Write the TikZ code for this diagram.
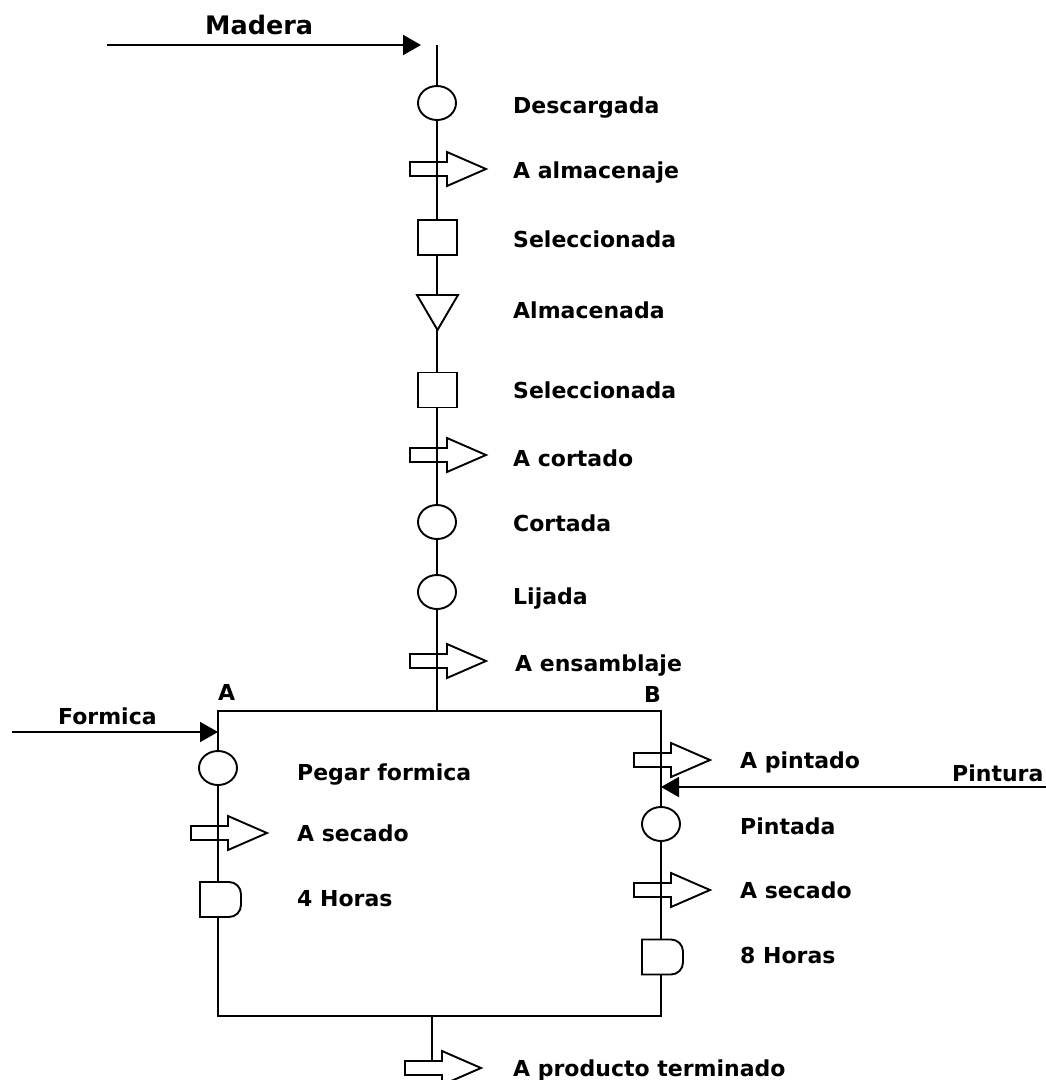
\documentclass[tikz,border=0pt]{standalone}
\usepackage{fontspec}
\setmainfont{DejaVu Sans}
\usetikzlibrary{shapes.geometric,arrows.meta}
\pgfdeclarelayer{arrowlayer}
\pgfdeclarelayer{linelayer}
\pgfsetlayers{arrowlayer,linelayer,main}

\tikzset{
  sym/.style={draw, line width=1.9pt, fill=white},
  flow/.style={line width=2pt},
  feed/.style={line width=2pt, -{Triangle[length=18pt,width=20pt]}},
  operation/.style={sym, ellipse, minimum width=38pt, minimum height=34pt, inner sep=0pt},
  inspection/.style={sym, rectangle, minimum width=39pt, minimum height=35pt, inner sep=0pt},
  lbl/.style={font=\fontsize{22}{26}\selectfont\bfseries, anchor=base west, inner sep=0pt},
  biglbl/.style={font=\fontsize{25.5}{30}\selectfont\bfseries, anchor=base west, inner sep=0pt},
  % transport: hollow block arrow, the flow line passes through its shaft
  transport/.pic={
    \draw[sym] (-27,-7) -- (10,-7) -- (10,-17) -- (49,0) -- (10,17) -- (10,7) -- (-27,7) -- cycle;
    \coordinate (-c) at (0,0);
    \coordinate (-n) at (0,7);
  },
  % storage: inverted triangle
  storage/.pic={
    \draw[sym] (-20.5,17.5) -- (20.5,17.5) -- (0,-17.5) -- cycle;
    \coordinate (-c) at (0,0);
  },
  % delay: D shape
  delay/.pic={
    \draw[sym] (-18,17.5) -- (11,17.5) arc[start angle=90,end angle=0,radius=12]
      -- (23,-5.5) arc[start angle=0,end angle=-90,radius=12] -- (-18,-17.5) -- cycle;
    \coordinate (-c) at (0,0);
  },
}

\begin{document}
\begin{tikzpicture}[x=1pt,y=1pt]
\useasboundingbox (0,0) rectangle (1046,-1080);

% ---- main column (wood) ----
\node[operation]  (op1) at (437,-103) {};
\begin{pgfonlayer}{arrowlayer}\pic (tr1) at (437,-169) {transport};\end{pgfonlayer}
\node[inspection] (in1) at (437.5,-237.5) {};
\pic (st1) at (437.5,-312.5) {storage};
\node[inspection] (in2) at (437.5,-390) {};
\begin{pgfonlayer}{arrowlayer}\pic (tr2) at (437,-455) {transport};\end{pgfonlayer}
\node[operation]  (op2) at (437,-522) {};
\node[operation]  (op3) at (437,-592) {};
\begin{pgfonlayer}{arrowlayer}\pic (tr3) at (437,-661) {transport};\end{pgfonlayer}

% ---- branch A ----
\node[operation] (op4) at (218,-768) {};
\begin{pgfonlayer}{arrowlayer}\pic (tr4) at (218,-833) {transport};\end{pgfonlayer}
\pic (dl1) at (218,-899.5) {delay};

% ---- branch B ----
\begin{pgfonlayer}{arrowlayer}\pic (tr5) at (661,-760) {transport};\end{pgfonlayer}
\node[operation] (op5) at (661,-824) {};
\begin{pgfonlayer}{arrowlayer}\pic (tr6) at (661,-890) {transport};\end{pgfonlayer}
\pic (dl2) at (660,-957) {delay};

% ---- output ----
\begin{pgfonlayer}{arrowlayer}\pic (tr7) at (432,-1068) {transport};\end{pgfonlayer}

% ---- flow lines ----
\coordinate (top)   at (437,-45);
\coordinate (merge) at (437,-711);
\coordinate (A)     at (218,-711);
\coordinate (B)     at (661,-711);
\coordinate (Bbot)  at (661,-1016);
\coordinate (Abot)  at (218,-1016);
\coordinate (out)   at (432,-1016);
\begin{pgfonlayer}{linelayer}
\draw[flow] (top) -- (merge);
\draw[flow] (A) -- (B) -- (Bbot) -- (Abot) -- cycle;
\draw[flow] (out) -- (tr7-n);
\end{pgfonlayer}

% ---- material inputs ----
\coordinate (madera0) at (107,-45);
\coordinate (maderaT) at (421,-45);
\coordinate (formica0) at (12,-732);
\coordinate (formicaT) at (218,-732);
\coordinate (pintura0) at (1046,-787);
\coordinate (pinturaT) at (661,-787);
\draw[feed] (madera0) -- (maderaT);
\draw[feed] (formica0) -- (formicaT);
\draw[feed] (pintura0) -- (pinturaT);

% ---- labels ----
\node[biglbl] (lMadera)  at (205,-34) {Madera};
\node[lbl] (l1)  at (513,-113) {Descargada};
\node[lbl] (l2)  at (513,-178) {A almacenaje};
\node[lbl] (l3)  at (513,-247) {Seleccionada};
\node[lbl] (l4)  at (513,-318) {Almacenada};
\node[lbl] (l5)  at (513,-398) {Seleccionada};
\node[lbl] (l6)  at (513,-466) {A cortado};
\node[lbl] (l7)  at (513,-531) {Cortada};
\node[lbl] (l8)  at (513,-604) {Lijada};
\node[lbl] (l9)  at (515,-671) {A ensamblaje};
\node[lbl] (lA)  at (218,-700) {A};
\node[lbl] (lB)  at (644,-702) {B};
\node[lbl] (lFormica) at (58,-724) {Formica};
\node[lbl] (l10) at (297,-780) {Pegar formica};
\node[lbl] (l11) at (297,-841) {A secado};
\node[lbl] (l12) at (297,-906) {4 Horas};
\node[lbl] (l13) at (740,-768) {A pintado};
\node[lbl] (lPintura) at (952,-781) {Pintura};
\node[lbl] (l14) at (740,-834) {Pintada};
\node[lbl] (l15) at (740,-898) {A secado};
\node[lbl] (l16) at (740,-963) {8 Horas};
\node[lbl] (l17) at (513,-1076) {A producto terminado};
\end{tikzpicture}
\end{document}
